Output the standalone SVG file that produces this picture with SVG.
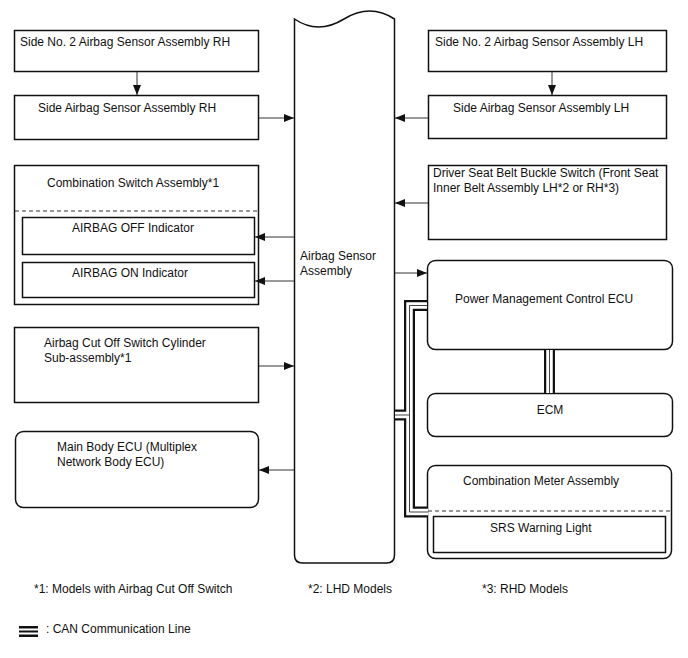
<svg xmlns="http://www.w3.org/2000/svg" width="688" height="658" viewBox="0 0 688 658">
<style>
text{font-family:"Liberation Sans",Arial,sans-serif;font-size:12px;fill:#111}
.box{fill:#fff;stroke:#111;stroke-width:1.5}
.dash{stroke:#333;stroke-width:1;stroke-dasharray:4,3;fill:none}
.wire{stroke:#333;stroke-width:1;fill:none}
.canB{stroke:#111;stroke-width:11;fill:none;stroke-linejoin:miter}
.canW{stroke:#fff;stroke-width:6.5;fill:none;stroke-linejoin:miter}
.canM{stroke:#444;stroke-width:1;fill:none;stroke-linejoin:miter}
</style>
<defs>
<marker id="ah" viewBox="0 0 10 8" refX="10" refY="4" markerWidth="10" markerHeight="8" markerUnits="userSpaceOnUse" orient="auto">
<path d="M0,0 L10,4 L0,8 Z" fill="#111"/>
</marker>
</defs>
<rect width="688" height="658" fill="#fff"/>

<g id="airbag-sensor">
<path class="box" d="M294.5,19 Q318,35 344,19 T394.5,19 V555 Q394.5,563 386.5,563 H302.5 Q294.5,563 294.5,555 Z"/>
<text x="300" y="260">Airbag Sensor</text>
<text x="300" y="275">Assembly</text>
</g>

<g id="side2-rh">
<rect class="box" x="14.5" y="30.5" width="244" height="41"/>
<text x="20" y="46">Side No. 2 Airbag Sensor Assembly RH</text>
</g>
<g id="side-rh">
<rect class="box" x="14.5" y="95.5" width="244" height="44"/>
<text x="38" y="112">Side Airbag Sensor Assembly RH</text>
</g>
<g id="side2-lh">
<rect class="box" x="428.5" y="30.5" width="238" height="41"/>
<text x="435" y="46">Side No. 2 Airbag Sensor Assembly LH</text>
</g>
<g id="side-lh">
<rect class="box" x="428.5" y="95.5" width="238" height="43"/>
<text x="453" y="112">Side Airbag Sensor Assembly LH</text>
</g>
<g id="buckle">
<rect class="box" x="428.5" y="165.5" width="238" height="74"/>
<text x="433" y="177">Driver Seat Belt Buckle Switch (Front Seat</text>
<text x="433" y="192">Inner Belt Assembly LH*2 or RH*3)</text>
</g>
<g id="comb-switch">
<rect class="box" x="14.5" y="165.5" width="244" height="139"/>
<text x="47" y="187">Combination Switch Assembly*1</text>
<line class="dash" x1="15" y1="211" x2="258" y2="211"/>
<rect class="box" x="22.5" y="217.5" width="232" height="37"/>
<text x="72" y="232">AIRBAG OFF Indicator</text>
<rect class="box" x="22.5" y="262.5" width="232" height="35"/>
<text x="72" y="277">AIRBAG ON Indicator</text>
</g>
<g id="cutoff">
<rect class="box" x="14.5" y="327.5" width="244" height="75"/>
<text x="44" y="347">Airbag Cut Off Switch Cylinder</text>
<text x="44" y="362">Sub-assembly*1</text>
</g>
<g id="main-body">
<rect class="box" x="15.5" y="431.5" width="243" height="76" rx="8"/>
<text x="57" y="451">Main Body ECU (Multiplex</text>
<text x="57" y="466">Network Body ECU)</text>
</g>
<g id="pmc">
<rect class="box" x="427.5" y="260.5" width="245" height="89" rx="8"/>
<text x="455" y="303">Power Management Control ECU</text>
</g>
<g id="ecm">
<rect class="box" x="427.5" y="393.5" width="245" height="43" rx="8"/>
<text x="550" y="414" text-anchor="middle">ECM</text>
</g>
<g id="comb-meter">
<rect class="box" x="427.5" y="465.5" width="244" height="93" rx="8"/>
<text x="463" y="485">Combination Meter Assembly</text>
<line class="dash" x1="428" y1="511" x2="671" y2="511"/>
<rect class="box" x="433.5" y="516.5" width="232" height="36"/>
<text x="490" y="532">SRS Warning Light</text>
</g>

<g id="connectors">
<line class="wire" x1="137" y1="72" x2="137" y2="95" marker-end="url(#ah)"/>
<line class="wire" x1="552" y1="72" x2="552" y2="95" marker-end="url(#ah)"/>
<line class="wire" x1="259" y1="118" x2="294" y2="118" marker-end="url(#ah)"/>
<line class="wire" x1="428" y1="118" x2="395" y2="118" marker-end="url(#ah)"/>
<line class="wire" x1="428" y1="203" x2="395" y2="203" marker-end="url(#ah)"/>
<line class="wire" x1="294" y1="237" x2="255" y2="237" marker-end="url(#ah)"/>
<line class="wire" x1="294" y1="281" x2="255" y2="281" marker-end="url(#ah)"/>
<line class="wire" x1="259" y1="366" x2="294" y2="366" marker-end="url(#ah)"/>
<line class="wire" x1="294" y1="470" x2="259" y2="470" marker-end="url(#ah)"/>
<line class="wire" x1="395" y1="273" x2="427" y2="273" marker-end="url(#ah)"/>
<path class="canB" d="M427,305.5 H409.5 V512 H428"/>
<path class="canB" d="M395,415 H409.5"/>
<path class="canB" d="M549.5,350 V393"/>
<path class="canW" d="M427,305.5 H409.5 V512 H428"/>
<path class="canW" d="M395,415 H409.5"/>
<path class="canW" d="M549.5,350 V393"/>
<path class="canM" d="M427,305.5 H409.5 V512 H428"/>
<path class="canM" d="M395,415 H409.5"/>
<path class="canM" d="M549.5,350 V393"/>
</g>

<g id="notes">
<text x="34" y="593">*1: Models with Airbag Cut Off Switch</text>
<text x="308" y="593">*2: LHD Models</text>
<text x="482" y="593">*3: RHD Models</text>
<rect x="19" y="626" width="19" height="11" fill="#111"/>
<rect x="19" y="628.5" width="19" height="2" fill="#fff"/>
<rect x="19" y="632.5" width="19" height="2" fill="#fff"/>
<text x="46" y="633">: CAN Communication Line</text>
</g>
</svg>
